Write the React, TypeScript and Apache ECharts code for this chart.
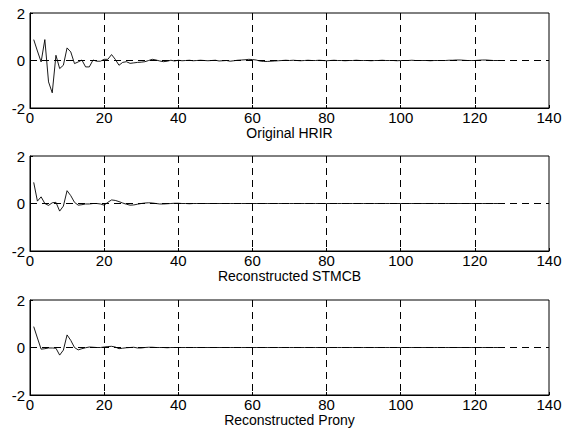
import React, { useEffect, useRef } from "react";
import * as echarts from "echarts";

// sample index n = 1..128
const originalHRIR: number[] = [
  0.88, 0.4, -0.06, 0.88, -0.9, -1.36, 0.22, -0.34, -0.2, 0.53,
  0.36, -0.13, -0.06, 0.02, -0.27, -0.27, 0.02, -0.03, -0.03, 0.05,
  0.05, 0.25, 0.05, -0.2, -0.08, -0.05, -0.12, -0.1, -0.08, -0.07,
  -0.05, 0.0, 0.05, 0.02, -0.02, -0.05, -0.03, 0.01, -0.02, 0.01,
  -0.01, 0.0, 0.01, -0.01, 0.0, 0.01, 0.0, -0.01, 0.0, 0.01,
  -0.02, -0.01, 0.0, -0.03, -0.01, 0.01, 0.02, 0.03, 0.05, 0.04,
  0.02, -0.02, -0.04, -0.04, -0.03, -0.02, -0.01, 0.0, 0.01, 0.0,
  0.01, 0.0, -0.01, 0.0, 0.01, 0.0, 0.0, 0.01, 0.0, -0.01,
  0.0, 0.01, 0.0, 0.0, -0.01, 0.0, 0.0, 0.01, 0.0, 0.0,
  0.0, -0.01, 0.0, 0.0, 0.01, 0.0, 0.0, 0.0, -0.01, 0.0,
  0.0, 0.0, 0.01, 0.0, 0.0, 0.0, 0.0, -0.01, 0.0, 0.0,
  0.0, 0.0, 0.01, 0.01, 0.02, 0.02, 0.01, 0.0, 0.0, 0.0,
  0.01, 0.02, 0.02, 0.01, 0.0, 0.0, 0.0, 0.0,
];

const stmcbRecon: number[] = [
  0.89, 0.1, 0.28, 0.0, -0.08, 0.03, 0.05, -0.32, -0.11, 0.54,
  0.33, 0.05, -0.07, -0.05, -0.02, -0.02, 0.0, 0.0, -0.02, -0.07,
  0.05, 0.15, 0.13, 0.08, 0.02, -0.03, -0.07, -0.06, -0.03, 0.0,
  0.02, 0.03, 0.02, 0.0, -0.02, -0.02, -0.01, 0.0, 0.01, 0.01,
  0.0, 0.0, -0.01, 0.0, 0.0, 0.0, 0.0, 0.0, 0.0, 0.0,
  0.0, 0.0, 0.0, 0.0, 0.0, 0.0, 0.0, 0.0, 0.0, 0.0,
  0.0, 0.0, 0.0, 0.0, 0.0, 0.0, 0.0, 0.0, 0.0, 0.0,
  0.0, 0.0, 0.0, 0.0, 0.0, 0.0, 0.0, 0.0, 0.0, 0.0,
  0.0, 0.0, 0.0, 0.0, 0.0, 0.0, 0.0, 0.0, 0.0, 0.0,
  0.0, 0.0, 0.0, 0.0, 0.0, 0.0, 0.0, 0.0, 0.0, 0.0,
  0.0, 0.0, 0.0, 0.0, 0.0, 0.0, 0.0, 0.0, 0.0, 0.0,
  0.0, 0.0, 0.0, 0.0, 0.0, 0.0, 0.0, 0.0, 0.0, 0.0,
  0.0, 0.0, 0.0, 0.0, 0.0, 0.0, 0.0, 0.0,
];

const pronyRecon: number[] = [
  0.88, 0.4, -0.07, -0.05, -0.02, -0.02, -0.03, -0.32, -0.11, 0.53,
  0.3, 0.0, -0.1, -0.05, -0.01, 0.02, 0.01, 0.0, 0.0, 0.02,
  0.04, 0.05, 0.02, -0.05, -0.03, -0.01, 0.0, 0.01, -0.02, -0.02,
  0.0, 0.01, 0.01, 0.0, 0.0, 0.0, -0.01, 0.0, 0.0, 0.0,
  0.0, 0.0, 0.0, 0.0, 0.0, 0.0, 0.0, 0.0, 0.0, 0.0,
  0.0, 0.0, 0.0, 0.0, 0.0, 0.0, 0.0, 0.0, 0.0, 0.0,
  0.0, 0.0, 0.0, 0.0, 0.0, 0.0, 0.0, 0.0, 0.0, 0.0,
  0.0, 0.0, 0.0, 0.0, 0.0, 0.0, 0.0, 0.0, 0.0, 0.0,
  0.0, 0.0, 0.0, 0.0, 0.0, 0.0, 0.0, 0.0, 0.0, 0.0,
  0.0, 0.0, 0.0, 0.0, 0.0, 0.0, 0.0, 0.0, 0.0, 0.0,
  0.0, 0.0, 0.0, 0.0, 0.0, 0.0, 0.0, 0.0, 0.0, 0.0,
  0.0, 0.0, 0.0, 0.0, 0.0, 0.0, 0.0, 0.0, 0.0, 0.0,
  0.0, 0.0, 0.0, 0.0, 0.0, 0.0, 0.0, 0.0,
];

const panelTitles: string[] = ["Original HRIR", "Reconstructed STMCB", "Reconstructed Prony"];
const panelData: number[][] = [originalHRIR, stmcbRecon, pronyRecon];
const xTicks = { min: 0, max: 140, interval: 20 };
const yTicks = { min: -2, max: 2, interval: 2 };

const FONT = "Liberation Sans, Arial, Helvetica, sans-serif";
const panelTops = [13, 156, 300];
const panelHeight = 95;

export default function App() {
  const ref = useRef<HTMLDivElement>(null);
  useEffect(() => {
    if (!ref.current) return;
    const chart = echarts.init(ref.current, undefined, { renderer: "svg" });
    const grids = panelTops.map((top) => ({
      left: 30,
      right: 22,
      top,
      height: panelHeight,
      show: true,
      borderColor: "#000",
      borderWidth: 1,
      backgroundColor: "transparent",
    }));
    const dash = { color: "#000", type: [7, 5], width: 1 };
    const xAxes = panelTitles.map((name, i) => ({
      type: "value",
      gridIndex: i,
      min: xTicks.min,
      max: xTicks.max,
      interval: xTicks.interval,
      name,
      nameLocation: "middle",
      nameGap: 17,
      nameTextStyle: { color: "#000", fontSize: 14, fontFamily: FONT },
      axisLine: { show: true, onZero: false, lineStyle: { color: "#000", width: 1 } },
      axisTick: { show: true, inside: true, length: 3, lineStyle: { color: "#000" } },
      axisLabel: { color: "#000", fontSize: 15, fontFamily: FONT, margin: 2 },
      splitLine: { show: true, showMinLine: false, showMaxLine: false, lineStyle: dash },
    }));
    const yAxes = panelTitles.map((_, i) => ({
      type: "value",
      gridIndex: i,
      min: yTicks.min,
      max: yTicks.max,
      interval: yTicks.interval,
      axisLine: { show: true, lineStyle: { color: "#000", width: 1 } },
      axisTick: { show: true, inside: true, length: 3, lineStyle: { color: "#000" } },
      axisLabel: { color: "#000", fontSize: 15, fontFamily: FONT, margin: 5 },
      splitLine: { show: true, showMinLine: false, showMaxLine: false, lineStyle: dash },
    }));
    const series = panelData.map((vals, i) => ({
      type: "line",
      xAxisIndex: i,
      yAxisIndex: i,
      showSymbol: false,
      symbol: "none",
      lineStyle: { color: "#000", width: 0.9 },
      data: vals.map((v, k) => [k + 1, v]),
      z: 5,
    }));
    chart.setOption({
      animation: false,
      backgroundColor: "#fff",
      grid: grids,
      xAxis: xAxes,
      yAxis: yAxes,
      series,
    });
    return () => chart.dispose();
  }, []);
  return (
    <div
      ref={ref}
      style={{ position: "fixed", left: 0, top: 0, width: 571, height: 430 }}
    />
  );
}
